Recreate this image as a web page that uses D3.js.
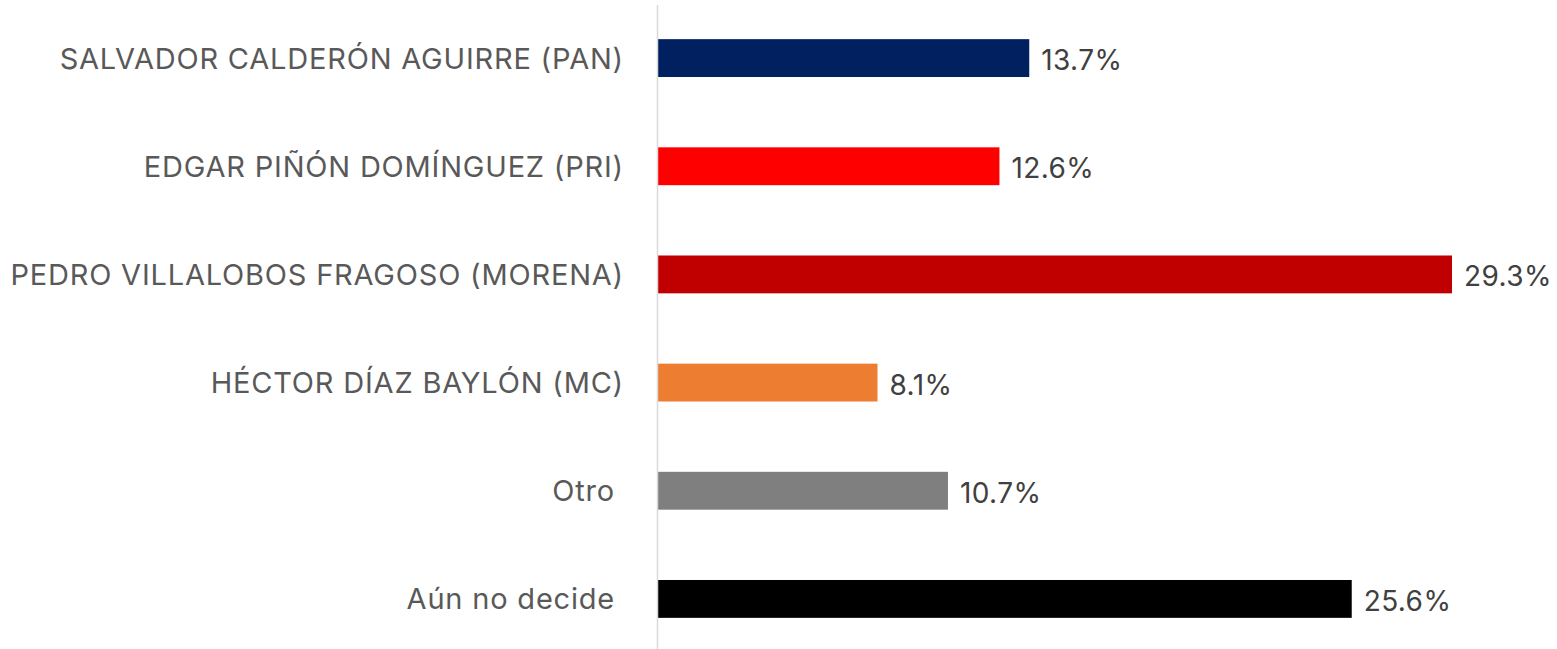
<!DOCTYPE html>
<html lang="es">
<head>
<meta charset="UTF-8">
<title>Preferencia electoral</title>
<script src="https://d3js.org/d3.v7.min.js"></script>
<style>
    body {
        margin: 0;
        background: #fff;
        font-family: Inter, "Open Sans", sans-serif;
    }

    .cat {
        fill: #595959;
        font-size: 29px;
        letter-spacing: 0.8px;
        white-space: pre;
    }

    .val {
        fill: #404040;
        font-size: 28px;
        letter-spacing: 0.4px;
    }
</style>
</head>
<body>
<div id="chart"></div>
<script>
    const categories = [
        "SALVADOR CALDERÓN AGUIRRE (PAN)",
        "EDGAR PIÑÓN DOMÍNGUEZ (PRI)",
        "PEDRO VILLALOBOS FRAGOSO (MORENA)",
        "HÉCTOR DÍAZ BAYLÓN (MC)",
        "Otro ",
        "Aún no decide "
    ];
    const values = [13.7, 12.6, 29.3, 8.1, 10.7, 25.6];
    const colors = ["#002060", "#ff0000", "#c00000", "#ed7d31", "#7f7f7f", "#000000"];

    const W = 1557, H = 649;
    const axisX = 658;

    const svg = d3.select("#chart")
        .append("svg")
        .attr("width", W)
        .attr("height", H);

    const x = d3.scaleLinear()
        .domain([0, 29.3])
        .range([axisX, 1452]);

    const y = d3.scaleBand()
        .domain(categories)
        .range([4, 653])
        .paddingInner(0.65)
        .paddingOuter(0.325);

    svg.selectAll("rect.bar")
        .data(values)
        .join("rect")
        .attr("class", "bar")
        .attr("x", x(0))
        .attr("y", (d, i) => y(categories[i]))
        .attr("width", d => x(d) - x(0))
        .attr("height", y.bandwidth())
        .attr("fill", (d, i) => colors[i]);

    // vertical axis line
    svg.append("line")
        .attr("x1", axisX - 0.5)
        .attr("x2", axisX - 0.5)
        .attr("y1", 5)
        .attr("y2", H)
        .attr("stroke", "#d9d9d9")
        .attr("stroke-width", 1.5);

    svg.selectAll("text.cat")
        .data(categories)
        .join("text")
        .attr("class", "cat")
        .attr("x", 624)
        .attr("y", d => y(d) + y.bandwidth() / 2)
        .attr("dy", "0.36em")
        .attr("text-anchor", "end")
        .text(d => d);

    svg.selectAll("text.val")
        .data(values)
        .join("text")
        .attr("class", "val")
        .attr("x", d => x(d) + 12)
        .attr("y", (d, i) => y(categories[i]) + y.bandwidth() / 2 + 2)
        .attr("dy", "0.36em")
        .text(d => d.toFixed(1) + "%");
</script>
</body>
</html>
